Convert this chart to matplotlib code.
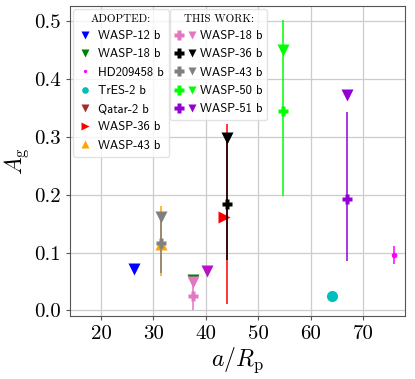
import matplotlib
matplotlib.use("Agg")
import matplotlib.pyplot as plt
from matplotlib.lines import Line2D
from matplotlib.legend_handler import HandlerTuple

plt.rcParams['mathtext.fontset'] = 'cm'

# ---------------- data ----------------
# Adopted literature values
adopted_names = ["WASP-12 b", "WASP-18 b", "HD209458 b", "TrES-2 b", "Qatar-2 b", "WASP-36 b", "WASP-43 b"]
adopted_x = [26.3, 37.5, 75.9, 64.0, 40.3, 43.5, 31.4]
adopted_y = [0.071, 0.053, 0.096, 0.025, 0.068, 0.161, 0.115]
adopted_colors = ["blue", "green", "magenta", "c", "brown", "red", "orange"]
adopted_plot_colors = ["blue", "green", "magenta", "c", "#b414c4", "red", "orange"]
adopted_markers = ["v", "v", "o", "o", "v", ">", "^"]
adopted_sizes = [9, 9, 4, 8, 9, 9, 9]

# Adopted error bars (HD209458 b, WASP-36 b, WASP-43 b)
adopted_err_x = [75.9, 44.1, 31.4]
adopted_err_y = [0.096, 0.166, 0.12]
adopted_err_lo = [0.015, 0.155, 0.06]
adopted_err_hi = [0.015, 0.155, 0.06]
adopted_err_colors = ["magenta", "red", "orange"]

# This work
work_names = ["WASP-18 b", "WASP-36 b", "WASP-43 b", "WASP-50 b", "WASP-51 b"]
work_x = [37.5, 44.1, 31.4, 54.7, 66.9]
work_y = [0.025, 0.184, 0.116, 0.345, 0.193]
work_lo = [0.025, 0.097, 0.052, 0.147, 0.108]
work_hi = [0.025, 0.114, 0.046, 0.157, 0.150]
work_limit = [0.050, 0.298, 0.161, 0.450, 0.372]
work_colors = ["#e377c2", "black", "gray", "lime", "darkviolet"]

xticks = [20, 30, 40, 50, 60, 70]
yticks = [0.0, 0.1, 0.2, 0.3, 0.4, 0.5]

# ---------------- figure ----------------
fig = plt.figure(figsize=(4.15, 3.79), dpi=100)
ax = fig.add_axes([69.5 / 415, 1 - 315.7 / 379, (405 - 69.5) / 415, (315.7 - 5.7) / 379])

ax.grid(True, color="#cccccc", lw=0.9, zorder=0)
ax.set_axisbelow(True)

# adopted error bars
for x, y, lo, hi, c in zip(adopted_err_x, adopted_err_y, adopted_err_lo, adopted_err_hi, adopted_err_colors):
    ax.errorbar([x], [y], yerr=[[lo], [hi]], fmt="none", ecolor=c, elinewidth=1.1, capsize=0, zorder=2)

# adopted markers
for x, y, c, m, s in zip(adopted_x, adopted_y, adopted_plot_colors, adopted_markers, adopted_sizes):
    ax.plot([x], [y], ls="none", marker=m, color=c, ms=s, mec="none", zorder=3)

# this work
for x, y, lo, hi, lim, c in zip(work_x, work_y, work_lo, work_hi, work_limit, work_colors):
    ax.errorbar([x], [y], yerr=[[lo], [hi]], fmt="P", color=c, ms=7, mec="none",
                elinewidth=1.1, capsize=0, zorder=4)
    ax.plot([x], [lim], ls="none", marker="v", color=c, ms=9, mec="none", zorder=5)

ax.set_xlim(14.0, 78.0)
ax.set_ylim(-0.009, 0.526)
ax.set_xticks(xticks)
ax.set_yticks(yticks)
ax.tick_params(labelsize=15, length=3, color="#555555")
for lab in ax.get_xticklabels() + ax.get_yticklabels():
    lab.set_fontfamily("cmr10")
for sp in ax.spines.values():
    sp.set_color("#555555")

ax.set_xlabel(r"$a/R_\mathrm{p}$", fontsize=17, labelpad=2)
ax.set_ylabel(r"$A_\mathrm{g}$", fontsize=17, labelpad=2)

# legends
leg_prop = {"family": "cmss10", "size": 9}
h1 = [Line2D([], [], ls="none", marker=m, color=c, ms=s * 0.6, mec="none")
      for c, m, s in zip(adopted_colors, adopted_markers, adopted_sizes)]
leg1 = ax.legend(h1, adopted_names, loc="upper left", bbox_to_anchor=(0.0, 1.0),
                 title="ADOPTED:", prop=leg_prop, borderaxespad=0.3,
                 handlelength=1.1, handletextpad=0.5, labelspacing=0.5,
                 borderpad=0.4, framealpha=0.8, edgecolor="#dddddd", fancybox=True)
leg1.get_title().set_fontfamily("cmr10")
leg1.get_title().set_fontsize(8)
ax.add_artist(leg1)

h2 = [(Line2D([], [], ls="none", marker="P", color=c, ms=6.5, mec="none"),
       Line2D([], [], ls="none", marker="v", color=c, ms=5.5, mec="none"))
      for c in work_colors]
leg2 = ax.legend(h2, work_names, loc="upper left", bbox_to_anchor=(0.288, 1.0),
                 title="THIS WORK:", prop=leg_prop, borderaxespad=0.3,
                 handler_map={tuple: HandlerTuple(ndivide=None, pad=0.3)},
                 handlelength=1.7, handletextpad=0.3, labelspacing=0.5,
                 borderpad=0.4, framealpha=0.8, edgecolor="#dddddd", fancybox=True)
leg2.get_title().set_fontfamily("cmr10")
leg2.get_title().set_fontsize(8)

fig.savefig("out.png", dpi=100)
